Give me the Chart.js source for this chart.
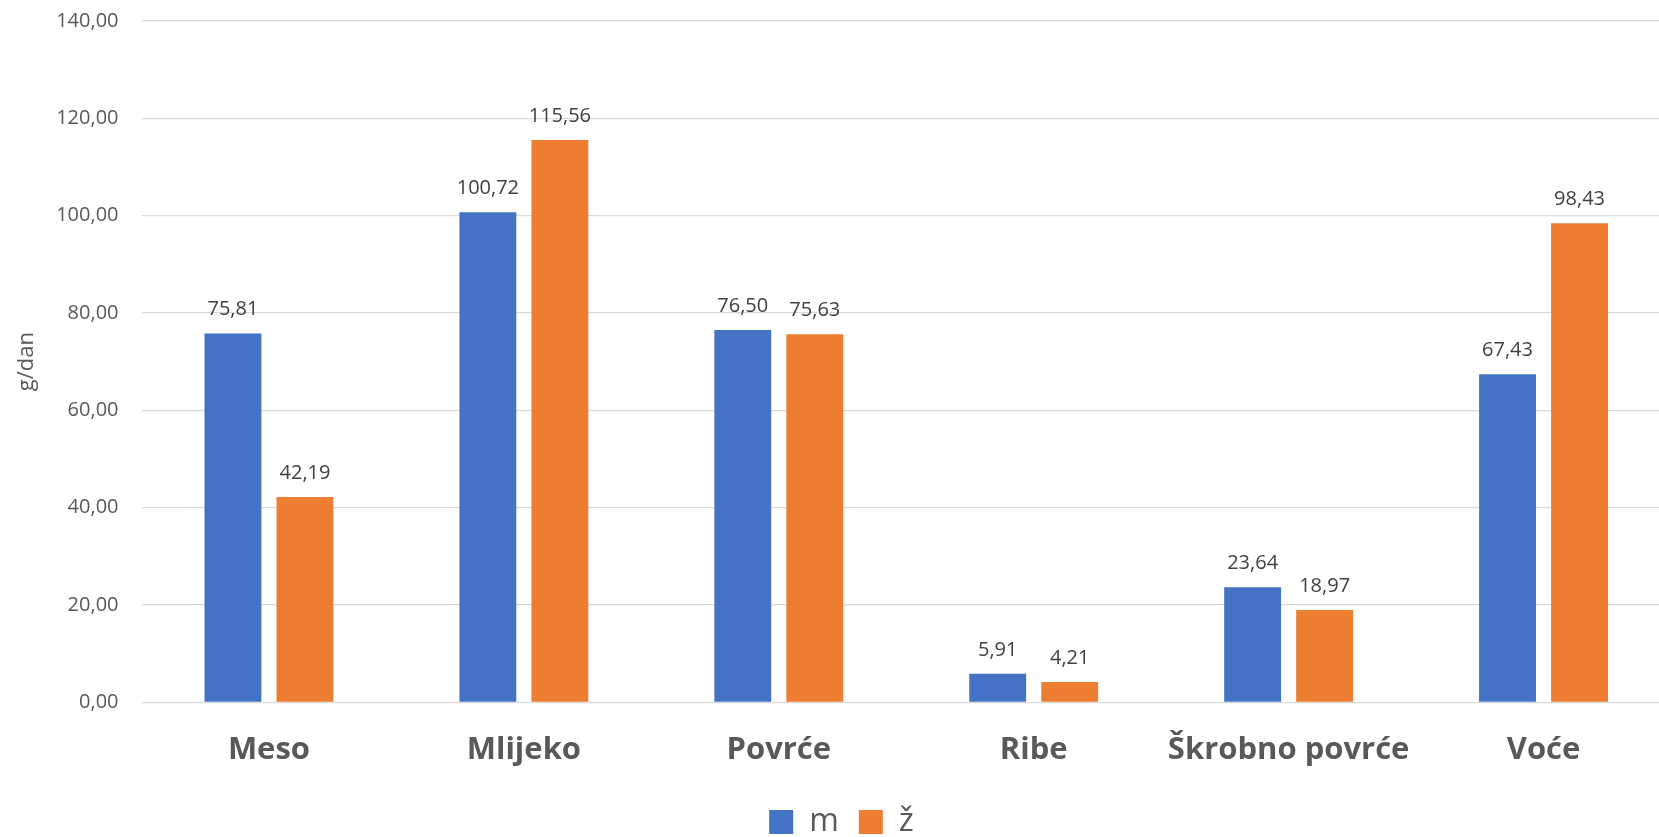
<!DOCTYPE html>
<html>
<head>
<meta charset="utf-8">
<script src="https://cdn.jsdelivr.net/npm/chart.js@4"></script>
<style>
html,body{margin:0;padding:0;background:#fff;overflow:hidden;}
#wrap{width:1671px;height:848px;position:relative;}
</style>
</head>
<body>
<div id="wrap"><canvas id="c"></canvas></div>
<script>
const categories = ["Meso", "Mlijeko", "Povrće", "Ribe", "Škrobno povrće", "Voće"];
const seriesNames = ["m", "ž"];
const valuesM = [75.81, 100.72, 76.50, 5.91, 23.64, 67.43];
const valuesZ = [42.19, 115.56, 75.63, 4.21, 18.97, 98.43];
const yTicks = [0, 20, 40, 60, 80, 100, 120, 140];
const yTitle = "g/dan";

const fmt = v => v.toFixed(2).replace('.', ',');

const valueLabels = {
  id: 'valueLabels',
  afterDatasetsDraw(chart) {
    const ctx = chart.ctx;
    ctx.save();
    ctx.font = '20px "Open Sans"';
    ctx.fillStyle = '#404040';
    ctx.textAlign = 'center';
    ctx.textBaseline = 'alphabetic';
    chart.data.datasets.forEach((ds, i) => {
      const meta = chart.getDatasetMeta(i);
      meta.data.forEach((bar, j) => {
        ctx.fillText(fmt(ds.data[j]), bar.x, bar.y - 18);
      });
    });
    ctx.restore();
  }
};

new Chart(document.getElementById('c'), {
  type: 'bar',
  data: {
    labels: categories,
    datasets: [
      {label: seriesNames[0], data: valuesM, backgroundColor: '#4472C4', categoryPercentage: 0.565, barPercentage: 0.79},
      {label: seriesNames[1], data: valuesZ, backgroundColor: '#ED7D31', categoryPercentage: 0.565, barPercentage: 0.79}
    ]
  },
  options: {
    responsive: true,
    maintainAspectRatio: false,
    animation: false,
    layout: {padding: {top: 21, left: 12, right: 0, bottom: 0}},
    plugins: {
      tooltip: {enabled: false},
      legend: {
        position: 'bottom',
        labels: {
          font: {family: '"Open Sans"', size: 32},
          color: '#595959',
          boxWidth: 24,
          boxHeight: 24,
          padding: 20
        }
      }
    },
    scales: {
      x: {
        grid: {display: false},
        border: {display: false},
        ticks: {
          font: {family: '"Open Sans"', size: 31, weight: 'bold'},
          color: '#595959',
          padding: 21,
          maxRotation: 0,
          autoSkip: false
        },
        afterFit(axis) { axis.height = 83.6; }
      },
      y: {
        min: 0, max: 140,
        afterBuildTicks(axis) { axis.ticks = yTicks.map(v => ({value: v})); },
        grid: {color: '#d9d9d9', lineWidth: 1.3, drawTicks: false},
        border: {display: false},
        ticks: {
          font: {family: '"Open Sans"', size: 20},
          color: '#595959',
          padding: 23,
          callback: v => fmt(v)
        },
        title: {
          display: true,
          text: yTitle,
          font: {family: '"Open Sans"', size: 22},
          color: '#595959',
          padding: {top: 2, bottom: 0}
        },
        afterFit(axis) {
          axis.width = 129.5;
          axis.paddingTop = 0;
          axis.paddingBottom = 0;
        }
      }
    }
  },
  plugins: [valueLabels]
});
</script>
</body>
</html>
